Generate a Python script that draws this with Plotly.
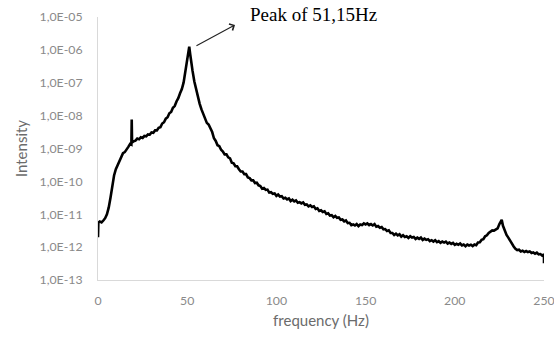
import plotly.graph_objects as go

# Spectrum samples: frequency (Hz) and log10 of the intensity
frequency_hz = [
    0, 0.2, 1, 2, 3, 4, 5, 6, 7, 8, 9,
    10, 11, 12, 13, 14, 15, 16, 17, 18, 18.7, 18.9, 19.1,
    20, 21, 22, 23, 24, 25, 26, 27, 28, 29,
    30, 31, 32, 33, 34, 35, 36, 37, 38, 39,
    40, 41, 42, 43, 44, 45, 46, 47, 48, 49,
    50, 50.6, 51.15, 51.7, 52, 53, 54, 55, 56, 57, 58, 59,
    60, 61, 62, 63, 64, 65, 66, 67, 68, 69,
    70, 71, 72, 73, 74, 75, 76, 77, 78, 79,
    80, 81, 82, 83, 84, 85, 86, 87, 88, 89,
    90, 91, 92, 93, 94, 95, 96, 97, 98, 99,
    100, 101, 102, 103, 104, 105, 106, 107, 108, 109,
    110, 111, 112, 113, 114, 115, 116, 117, 118, 119,
    120, 121, 122, 123, 124, 125, 126, 127, 128, 129,
    130, 131, 132, 133, 134, 135, 136, 137, 138, 139,
    140, 141, 142, 143, 144, 145, 146, 147, 148, 149,
    150, 151, 152, 153, 154, 155, 156, 157, 158, 159,
    160, 161, 162, 163, 164, 165, 166, 167, 168, 169,
    170, 171, 172, 173, 174, 175, 176, 177, 178, 179,
    180, 181, 182, 183, 184, 185, 186, 187, 188, 189,
    190, 191, 192, 193, 194, 195, 196, 197, 198, 199,
    200, 201, 202, 203, 204, 205, 206, 207, 208, 209,
    210, 211, 212, 213, 214, 215, 216, 217, 218, 219,
    220, 221, 222, 223, 224, 225, 226.3, 227, 228, 229,
    230, 231, 232, 233, 234, 235, 236, 237, 238, 239,
    240, 241, 242, 243, 244, 245, 246, 247, 248, 249,
    250, 250,
]

log10_intensity = [
    -11.70, -11.26, -11.22, -11.25, -11.19, -11.12, -11.00, -10.80, -10.50, -10.12, -9.82,
    -9.63, -9.52, -9.36, -9.28, -9.14, -9.11, -9.01, -8.95, -8.86, -8.88, -8.12, -8.82,
    -8.78, -8.76, -8.70, -8.72, -8.66, -8.68, -8.62, -8.63, -8.57, -8.58,
    -8.51, -8.52, -8.45, -8.45, -8.37, -8.35, -8.24, -8.20, -8.09, -8.05,
    -7.93, -7.89, -7.76, -7.71, -7.57, -7.47, -7.32, -7.19, -6.99, -6.68,
    -6.34, -6.08, -5.90, -6.14, -6.30, -6.64, -6.96, -7.20, -7.40, -7.64, -7.81, -7.96,
    -8.06, -8.22, -8.27, -8.39, -8.50, -8.69, -8.77, -8.90, -8.93, -9.04,
    -9.09, -9.18, -9.18, -9.27, -9.30, -9.43, -9.45, -9.54, -9.54, -9.63,
    -9.70, -9.70, -9.78, -9.78, -9.88, -9.90, -9.97, -9.97, -10.05, -10.04,
    -10.12, -10.14, -10.22, -10.20, -10.26, -10.25, -10.34, -10.33, -10.38, -10.37,
    -10.44, -10.40, -10.46, -10.45, -10.52, -10.50, -10.55, -10.52, -10.60, -10.56,
    -10.61, -10.58, -10.65, -10.63, -10.67, -10.64, -10.71, -10.70, -10.76, -10.73,
    -10.78, -10.76, -10.84, -10.82, -10.90, -10.88, -10.93, -10.91, -10.99, -10.97,
    -11.04, -11.03, -11.09, -11.05, -11.11, -11.10, -11.17, -11.16, -11.22, -11.19,
    -11.27, -11.26, -11.33, -11.31, -11.34, -11.30, -11.36, -11.31, -11.33, -11.28,
    -11.31, -11.28, -11.33, -11.30, -11.34, -11.30, -11.38, -11.36, -11.41, -11.39,
    -11.46, -11.45, -11.51, -11.49, -11.57, -11.57, -11.63, -11.59, -11.64, -11.61,
    -11.68, -11.64, -11.69, -11.67, -11.72, -11.67, -11.71, -11.69, -11.75, -11.71,
    -11.75, -11.71, -11.78, -11.74, -11.78, -11.76, -11.82, -11.79, -11.83, -11.79,
    -11.85, -11.82, -11.87, -11.83, -11.86, -11.83, -11.89, -11.86, -11.90, -11.87,
    -11.93, -11.90, -11.93, -11.89, -11.95, -11.92, -11.97, -11.92, -11.95, -11.93,
    -11.97, -11.92, -11.94, -11.86, -11.85, -11.78, -11.76, -11.67, -11.64, -11.57,
    -11.54, -11.49, -11.50, -11.45, -11.43, -11.30, -11.17, -11.35, -11.52, -11.63,
    -11.71, -11.81, -11.89, -11.98, -12.05, -12.09, -12.08, -12.13, -12.11, -12.15,
    -12.12, -12.15, -12.13, -12.18, -12.16, -12.20, -12.17, -12.22, -12.21, -12.26,
    -12.22, -12.49,
]

intensity = [10 ** v for v in log10_intensity]

# Axis ticks
x_ticks = [0, 50, 100, 150, 200, 250]
y_tick_exponents = [-13, -12, -11, -10, -9, -8, -7, -6, -5]
y_tick_values = [10 ** e for e in y_tick_exponents]
y_tick_text = ["1,0E-%02d" % (-e) for e in y_tick_exponents]

# Annotated peak
peak_freq = 51.15
peak_log10 = -5.90

tick_font = dict(family="Lato, 'Liberation Sans', sans-serif", size=12.3, color="#8a8a8a")
title_font = dict(family="Lato, 'Liberation Sans', sans-serif", size=15, color="#6b6b6b")

fig = go.Figure()
fig.add_trace(go.Scatter(
    x=frequency_hz,
    y=intensity,
    mode="lines",
    line=dict(color="black", width=2.6),
    showlegend=False,
    hoverinfo="skip",
))

fig.update_layout(
    width=554,
    height=338,
    margin=dict(l=98, r=10, t=17, b=58),
    paper_bgcolor="white",
    plot_bgcolor="white",
    xaxis=dict(
        range=[0, 250],
        tickvals=x_ticks,
        ticktext=[str(t) for t in x_ticks],
        tickfont=tick_font,
        showgrid=False,
        zeroline=False,
        showline=True,
        linecolor="#d9d9d9",
        linewidth=1,
        ticks="",
        ticklabelstandoff=9,
        ticklabeloverflow="allow",
        title=dict(text="frequency (Hz)", font=title_font, standoff=8),
        automargin=False,
    ),
    yaxis=dict(
        type="log",
        range=[-13, -5],
        tickvals=y_tick_values,
        ticktext=y_tick_text,
        tickfont=tick_font,
        showgrid=False,
        zeroline=False,
        showline=True,
        linecolor="#d9d9d9",
        linewidth=1,
        ticks="",
        ticklabelstandoff=12,
        title=dict(text="Intensity", font=title_font, standoff=8),
        automargin=False,
    ),
    annotations=[
        dict(
            x=76.8, y=-5.24, xref="x", yref="y",
            ax=peak_freq + 3.2, ay=peak_log10, axref="x", ayref="y",
            showarrow=True, arrowhead=4, arrowsize=1.3, arrowwidth=1.1,
            arrowcolor="#222222", text="",
        ),
        dict(
            x=0.336, y=1.011, xref="paper", yref="paper",
            text="Peak of 51,15Hz", showarrow=False,
            xanchor="left", yanchor="middle",
            font=dict(family="'Liberation Serif', 'Times New Roman', serif", size=19, color="black"),
        ),
    ],
)

fig.write_html("out.html")
